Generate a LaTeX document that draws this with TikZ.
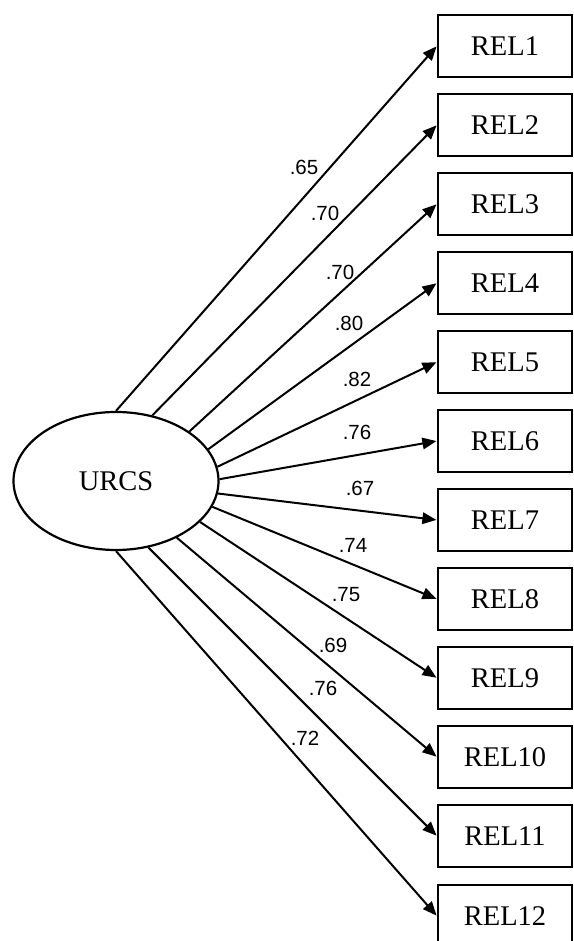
\documentclass[tikz,border=0pt]{standalone}
\usepackage{fontspec}
\setmainfont{Liberation Serif}
\newfontfamily\coeffont{Liberation Sans}
\usetikzlibrary{arrows.meta,shapes.geometric}
\tikzset{
  latent/.style={ellipse,draw,line width=2.2pt,minimum width=205pt,minimum height=138pt,
                 inner sep=0pt,font=\fontsize{28.5}{32}\selectfont},
  item/.style={draw,line width=2.2pt,minimum width=134pt,minimum height=62pt,
               inner sep=0pt,font=\fontsize{28.5}{32}\selectfont},
  load/.style={-{Triangle[length=14pt,width=11.5pt]},line width=2pt,shorten >=0.5pt},
  coef/.style={font=\coeffont\fontsize{20.5}{24}\selectfont,inner sep=0pt},
}

\begin{document}
\begin{tikzpicture}[x=1pt,y=1pt]
  \useasboundingbox (0,0) rectangle (573,941);
  % the latent factor
  \node[latent] (urcs) at (116,460) {URCS};

  % the twelve items
  \node[item] (r1) at (505,895) {REL1};
  \node[item] (r2) at (505,816) {REL2};
  \node[item] (r3) at (505,737) {REL3};
  \node[item] (r4) at (505,658) {REL4};
  \node[item] (r5) at (505,579) {REL5};
  \node[item] (r6) at (505,500) {REL6};
  \node[item] (r7) at (505,421) {REL7};
  \node[item] (r8) at (505,342) {REL8};
  \node[item] (r9) at (505,263) {REL9};
  \node[item] (r10) at (505,184) {REL10};
  \node[item] (r11) at (505,105) {REL11};
  \node[item] (r12) at (505,25) {REL12};

  % loadings
  \draw[load] (urcs.90) -- (r1.west);
  \draw[load] (urcs.61) -- (r2.west);
  \draw[load] (urcs.34) -- (r3.west);
  \draw[load] (urcs.19.5) -- (r4.west);
  \draw[load] (urcs.8) -- (r5.west);
  \draw[load] (urcs.1) -- (r6.west);
  \draw[load] (urcs.-7.5) -- (r7.west);
  \draw[load] (urcs.-15.5) -- (r8.west);
  \draw[load] (urcs.-26) -- (r9.west);
  \draw[load] (urcs.-43) -- (r10.west);
  \draw[load] (urcs.-64) -- (r11.west);
  \draw[load] (urcs.-90) -- (r12.west);

  \node[coef] (c1) at (304,774) {.65};
  \node[coef] (c2) at (325,728) {.70};
  \node[coef] (c3) at (340,669) {.70};
  \node[coef] (c4) at (349,618) {.80};
  \node[coef] (c5) at (357,562) {.82};
  \node[coef] (c6) at (357,509) {.76};
  \node[coef] (c7) at (360,453) {.67};
  \node[coef] (c8) at (353,396) {.74};
  \node[coef] (c9) at (346,346) {.75};
  \node[coef] (c10) at (333,296) {.69};
  \node[coef] (c11) at (323,253) {.76};
  \node[coef] (c12) at (305,203) {.72};
\end{tikzpicture}
\end{document}
